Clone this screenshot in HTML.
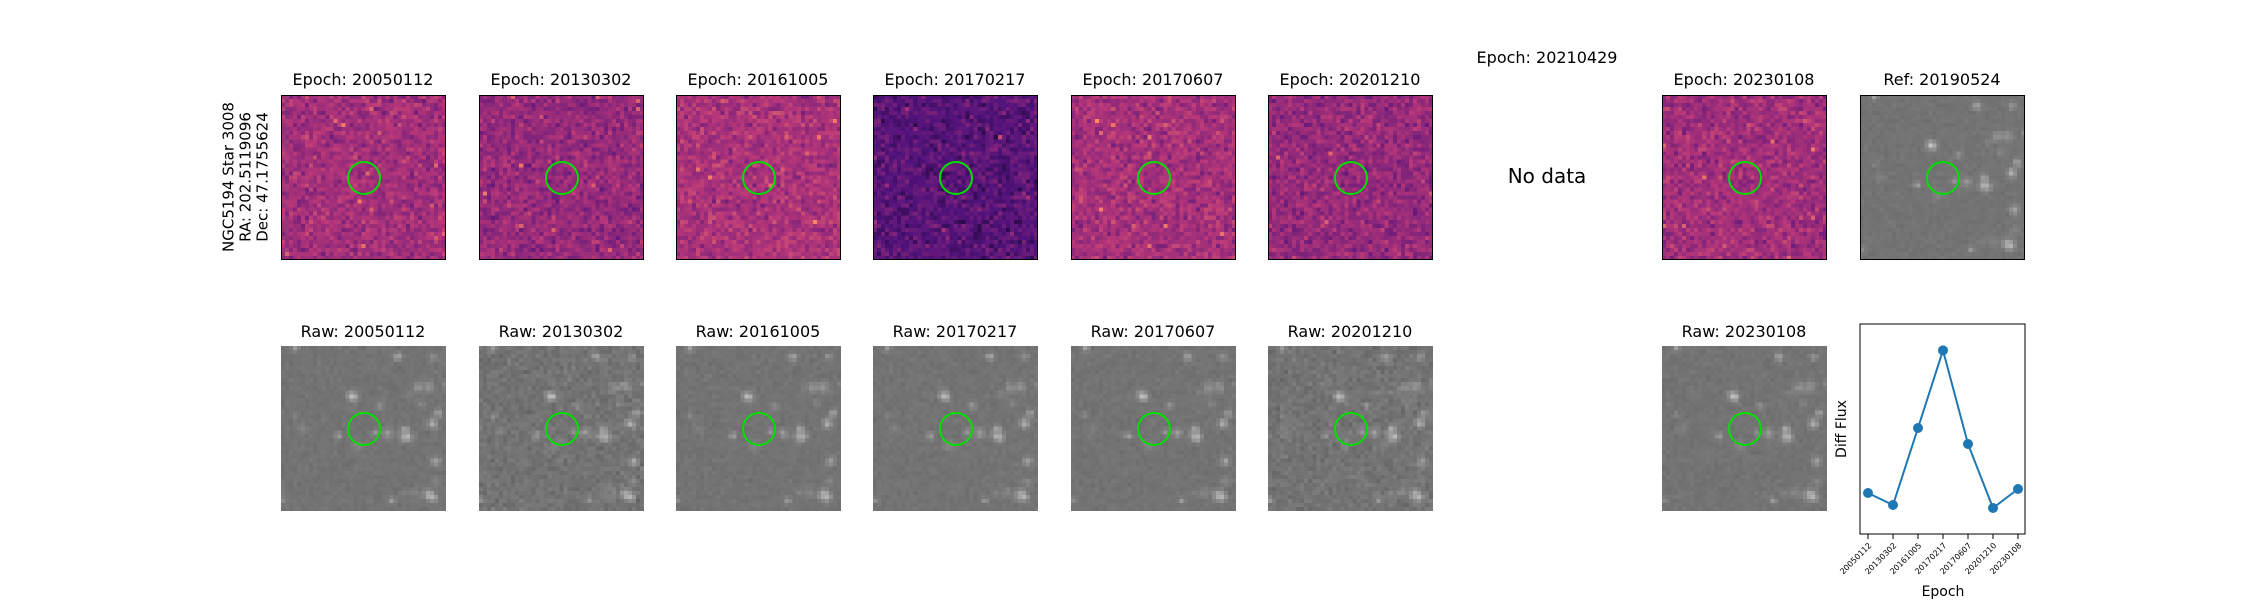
<!DOCTYPE html>
<html><head><meta charset="utf-8">
<style>
body{margin:0;background:#fff;width:2250px;height:600px;overflow:hidden;position:relative;font-family:"DejaVu Sans","Liberation Sans",sans-serif;}
.t{position:absolute;font-size:16px;color:#000;text-align:center;width:240px;white-space:nowrap;}
canvas{position:absolute;}
.box{position:absolute;border:1px solid #000;box-sizing:border-box;}
.circ{position:absolute;border:2px solid #00e000;border-radius:50%;box-sizing:border-box;width:34px;height:34px;}
</style></head><body>
<div id="root"></div>
<div style="position:absolute;left:246px;top:177px;transform:translate(-50%,-50%) rotate(-90deg);font-size:15px;line-height:17px;text-align:center;white-space:nowrap;">NGC5194 Star 3008<br>RA: 202.5119096<br>Dec: 47.1755624</div>
<div class="t" style="left:1427px;top:48px;">Epoch: 20210429</div>
<div class="t" style="left:1427px;top:164px;font-size:20px;">No data</div>
<svg id="lc" width="2250" height="600" style="position:absolute;left:0;top:0;pointer-events:none"></svg>
<script>
const epochs=["20050112","20130302","20161005","20170217","20170607","20201210","20230108"];
const diffFlux=[0.123,0.087,0.318,0.551,0.270,0.078,0.135];
const yLo=0,yHi=0.63;
const xs=[281,479,676,873,1071,1268,1662];
const levels=[0.45,0.42,0.47,0.27,0.46,0.42,0.45];
const root=document.getElementById('root');
let seed=7;function rnd(){seed=(seed*16807)%2147483647;return seed/2147483647;}
function gauss(){return (rnd()+rnd()+rnd()-1.5)*0.8;}
const magma=[[0,[0,0,4]],[0.25,[80,18,123]],[0.5,[183,55,121]],[0.75,[252,137,97]],[1,[252,253,191]]];
function cmap(v){v=Math.max(0,Math.min(1,v));for(let i=1;i<magma.length;i++){if(v<=magma[i][0]){const a=magma[i-1],b=magma[i];const f=(v-a[0])/(b[0]-a[0]);return a[1].map((c,k)=>Math.round(c+(b[1][k]-c)*f));}}return magma[4][1];}
const stars=[];for(let k=0;k<30;k++)stars.push([rnd()*41,rnd()*41,12+rnd()*55,0.5+rnd()*0.5]);
function drawImg(x,y,w,h,kind,lvl,name){
 const c=document.createElement('canvas');c.width=41;c.height=41;c.style.left=x+'px';c.style.top=y+'px';c.style.width=w+'px';c.style.height=h+'px';c.style.imageRendering='pixelated';
 
 
 const g=c.getContext('2d');
 for(let i=0;i<41;i++)for(let j=0;j<41;j++){
  let col;
  if(kind==='diff'){let v=lvl+gauss()*0.12;if(rnd()<0.006)v+=0.2;col=cmap(v);}
  else{let v=115+gauss()*9*lvl;for(const s of stars){const d2=(s[0]-j)**2+(s[1]-i)**2;v+=s[2]*Math.exp(-d2/(2*s[3]*s[3]));}v=Math.max(40,Math.min(255,v));v=Math.round(v);col=[v,v,v];}
  g.fillStyle='rgb('+col.join(',')+')';g.fillRect(j,i,1,1);}
 root.appendChild(c);
 const ci=document.createElement('div');ci.className='circ';ci.style.left=(x+w/2-17)+'px';ci.style.top=(y+h/2-17)+'px';
 
 
 root.appendChild(ci);
 if(kind==='diff'||kind==='ref'){const b=document.createElement('div');b.className='box';b.style.left=x+'px';b.style.top=y+'px';b.style.width=w+'px';b.style.height=h+'px';
 
 
 root.appendChild(b);}
}
function title(txt,x,y,name){const d=document.createElement('div');d.className='t';d.textContent=txt;d.style.left=(x+82-120)+'px';d.style.top=y+'px';
 
 
 root.appendChild(d);}
epochs.forEach((e,i)=>{
 title('Epoch: '+e,xs[i],70,'diff-title-'+e);
 drawImg(xs[i],95,165,165,'diff',levels[i],'diff-image-'+e);
 title('Raw: '+e,xs[i],322,'raw-title-'+e);
 drawImg(xs[i],346,165,165,'raw',i===1||i===5?1.6:0.8,'raw-image-'+e);
});
title('Ref: 20190524',1860,70,'ref-title');
drawImg(1860,95,165,165,'ref',0.7,'ref-image');
const svg=document.getElementById('lc');const NS='http://www.w3.org/2000/svg';
const L=1860,R=2025,T=324,B=534;
function X(i){return 1868+i*(2018-1868)/(epochs.length-1);}
function Y(v){return B-(v-yLo)/(yHi-yLo)*(B-T);}
function el(t,a,name){const e=document.createElementNS(NS,t);for(const k in a)e.setAttribute(k,a[k]);svg.appendChild(e);
 
 
 return e;}
el('rect',{x:L,y:T,width:R-L,height:B-T,fill:'none',stroke:'#000','stroke-width':1},'plot-frame');
el('polyline',{points:diffFlux.map((v,i)=>X(i)+','+Y(v)).join(' '),fill:'none',stroke:'#1f77b4','stroke-width':2},'flux-line');
diffFlux.forEach((v,i)=>{el('circle',{cx:X(i),cy:Y(v),r:5,fill:'#1f77b4'},'flux-point-'+epochs[i]);
 el('line',{x1:X(i),x2:X(i),y1:B,y2:B+5,stroke:'#000'},'x-tick-'+epochs[i]);
 const t=el('text',{x:X(i)+4,y:B+12,'font-size':8,'text-anchor':'end',transform:'rotate(-45 '+(X(i)+4)+' '+(B+12)+')','font-family':'DejaVu Sans, sans-serif'},'x-tick-label-'+epochs[i]);t.textContent=epochs[i];});
const xl=el('text',{x:1943,y:596,'font-size':14,'text-anchor':'middle','font-family':'DejaVu Sans, sans-serif'},'x-axis-title');xl.textContent='Epoch';
const yl=el('text',{x:1846,y:429,'font-size':14,'text-anchor':'middle',transform:'rotate(-90 1846 429)','font-family':'DejaVu Sans, sans-serif'},'y-axis-title');yl.textContent='Diff Flux';
</script>
</body></html>
